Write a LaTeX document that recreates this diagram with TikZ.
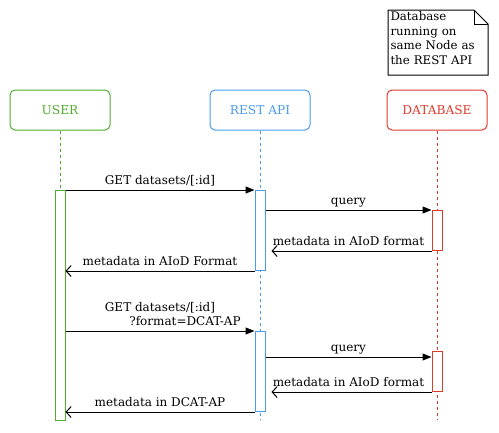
\documentclass[tikz,border=0pt]{standalone}
\usepackage{fontspec}
\setmainfont{DejaVu Serif}
\usetikzlibrary{arrows.meta}
\definecolor{UserGreen}{HTML}{4FAD2C}
\definecolor{ApiBlue}{HTML}{4A9BEA}
\definecolor{DbRed}{HTML}{DC3A2A}

\tikzset{
  actor/.style={
    draw=#1,
    text=#1,
    rounded corners=5pt,
    minimum width=100pt,
    minimum height=40pt,
    font=\fontsize{12.2}{14}\selectfont
  },
  lifeline/.style={draw=#1, dashed, dash pattern=on 3pt off 3pt},
  activation/.style={
    draw=#1,
    fill=white,
    minimum width=10pt,
    inner sep=0pt,
    anchor=north
  },
  call/.style={-{Triangle[length=9pt,width=7pt]}},
  reply/.style={-{Straight Barb[length=5pt,width=11pt]}},
  msg/.style={font=\fontsize{12}{13.5}\selectfont, inner sep=2.5pt, text depth=3pt}
}

\begin{document}
\begin{tikzpicture}[x=1pt,y=-1pt,line width=1pt]
  \useasboundingbox (0,0) rectangle (499,432);

  % participants
  \node[actor=UserGreen] (user) at (60,110) {USER};
  \node[actor=ApiBlue] (api) at (260,110) {REST API};
  \node[actor=DbRed] (db) at (437,110) {DATABASE};

  % note on the database
  \node[
    anchor=north west,
    inner sep=2pt,
    text width=94pt,
    align=left,
    font=\fontsize{11.8}{14.6}\selectfont
  ] (dbnote) at (388,9) {Database\\running on\\same Node as\\the REST API};
  \draw (388,10) -- (474,10) -- (488,24) -- (488,75) -- (388,75) -- cycle;
  \draw (474,10) -- (474,24) -- (488,24);

  % lifelines
  \coordinate (user end) at (60,420);
  \coordinate (api end) at (260,420);
  \coordinate (db end) at (437,420);
  \draw[lifeline=UserGreen] (user.south) -- (user end);
  \draw[lifeline=ApiBlue] (api.south) -- (api end);
  \draw[lifeline=DbRed] (db.south) -- (db end);

  % activations
  \node[activation=UserGreen, minimum height=230pt] (useract) at (60,190) {};
  \node[activation=ApiBlue, minimum height=80pt] (apiact1) at (260,190) {};
  \node[activation=DbRed, minimum height=40pt] (dbact1) at (437,210) {};
  \node[activation=ApiBlue, minimum height=80pt] (apiact2) at (260,331) {};
  \node[activation=DbRed, minimum height=40pt] (dbact2) at (437,351) {};

  % first request
  \draw[call] (useract.north east |- apiact1.north) -- (apiact1.north west)
    node[msg, midway, above] {GET datasets/[:id]};
  \draw[call] (apiact1.east |- dbact1.north) -- (dbact1.north west)
    node[msg, midway, above] {query};
  \draw[reply, shorten >=6pt] (dbact1.south west) -- (apiact1.east |- dbact1.south)
    node[msg, midway, above] {metadata in AIoD format};
  \draw[reply] (apiact1.south west) -- (useract.east |- apiact1.south)
    node[msg, midway, above] {metadata in AIoD Format};

  % second request
  \draw[call] (useract.east |- apiact2.north) -- (apiact2.north west)
    node[msg, midway, above, align=center] {GET datasets/[:id]\\\hspace*{50pt}?format=DCAT-AP};
  \draw[call] (apiact2.east |- 0,357) -- (dbact2.west |- 0,357)
    node[msg, midway, above] {query};
  \draw[reply, shorten >=6pt] (dbact2.south west) -- (apiact2.east |- dbact2.south)
    node[msg, midway, above] {metadata in AIoD format};
  \draw[reply] (apiact2.south west) -- (useract.east |- apiact2.south)
    node[msg, midway, above] {metadata in DCAT-AP};
\end{tikzpicture}
\end{document}
